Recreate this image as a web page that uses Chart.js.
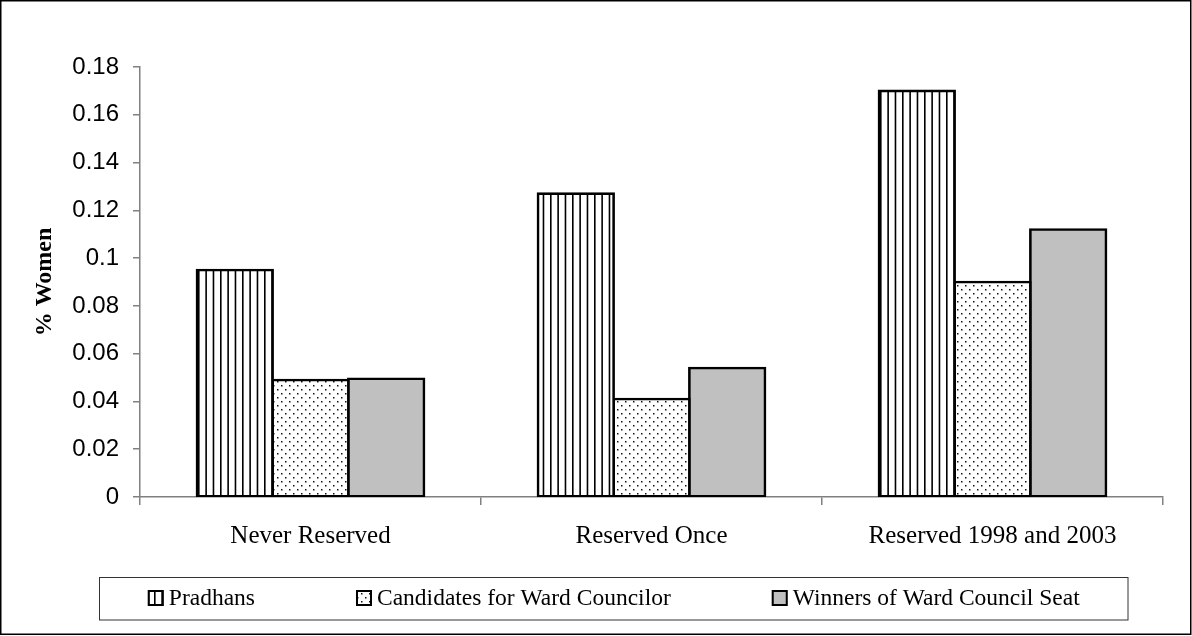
<!DOCTYPE html>
<html>
<head>
<meta charset="utf-8">
<script src="https://cdn.jsdelivr.net/npm/chart.js@4.4.0/dist/chart.umd.min.js"></script>
<style>
  html, body { margin: 0; padding: 0; background: #fff; }
  #wrap { width: 1192px; height: 636px; position: relative; }
</style>
</head>
<body>
<div id="wrap"><canvas id="chart"></canvas></div>
<script>
const categories = ['Never Reserved', 'Reserved Once', 'Reserved 1998 and 2003'];
const seriesNames = ['Pradhans', 'Candidates for Ward Councilor', 'Winners of Ward Council Seat'];
const pradhans = [0.095, 0.127, 0.170];
const candidates = [0.049, 0.041, 0.090];
const winners = [0.0495, 0.054, 0.112];
const yTicks = [0, 0.02, 0.04, 0.06, 0.08, 0.1, 0.12, 0.14, 0.16, 0.18];

// fill patterns like the old Excel hatches
function stripes() {
  const c = document.createElement('canvas');
  c.width = 22; c.height = 4;
  const x = c.getContext('2d');
  x.fillStyle = '#fff'; x.fillRect(0, 0, 22, 4);
  x.fillStyle = '#000';
  [0, 7.33, 14.67].forEach(p => x.fillRect(p, 0, 1.6, 4));
  return x.createPattern(c, 'repeat');
}
function dots() {
  const c = document.createElement('canvas');
  c.width = 8; c.height = 8;
  const x = c.getContext('2d');
  x.fillStyle = '#fff'; x.fillRect(0, 0, 8, 8);
  x.fillStyle = '#111';
  x.fillRect(1, 1, 1.5, 1.5);
  x.fillRect(5, 5, 1.5, 1.5);
  return x.createPattern(c, 'repeat');
}
const fills = [stripes(), dots(), '#c0c0c0'];

const frame = {
  id: 'frame',
  afterDraw(chart) {
    const ctx = chart.ctx;
    ctx.save();
    ctx.strokeStyle = '#000';
    ctx.lineWidth = 1.5;
    ctx.strokeRect(0.75, 0.75, 1190, 633.5);
    // legend
    ctx.lineWidth = 1;
    ctx.strokeStyle = '#333';
    ctx.strokeRect(99.5, 577.5, 1028.5, 42.5);
    ctx.font = '23.5px "Liberation Serif"';
    const gap = 101, box = 16, pad = 5, cy = 598;
    const widths = seriesNames.map(n => box + pad + ctx.measureText(n).width);
    const total = widths.reduce((a, b) => a + b, 0) + gap * 2;
    let x = 99.5 + (1028.5 - total) / 2;
    seriesNames.forEach((n, i) => {
      ctx.fillStyle = fills[i];
      ctx.fillRect(x, cy - 8, box, box);
      ctx.lineWidth = 2;
      ctx.strokeStyle = '#000';
      ctx.strokeRect(x + 1, cy - 7, box - 2, box - 2);
      ctx.fillStyle = '#000';
      ctx.textBaseline = 'middle';
      ctx.textAlign = 'left';
      ctx.fillText(n, x + box + pad, cy + 1);
      x += widths[i] + gap;
    });
    ctx.restore();
  }
};

const barStyle = {
  borderColor: '#000',
  borderWidth: 2.6,
  borderSkipped: false,
  inflateAmount: 1.3,
  categoryPercentage: 0.666,
  barPercentage: 1.0
};

new Chart(document.getElementById('chart'), {
  type: 'bar',
  data: {
    labels: categories,
    datasets: [
      { label: seriesNames[0], data: pradhans, backgroundColor: fills[0], ...barStyle },
      { label: seriesNames[1], data: candidates, backgroundColor: fills[1], ...barStyle },
      { label: seriesNames[2], data: winners, backgroundColor: fills[2], ...barStyle }
    ]
  },
  options: {
    responsive: true,
    maintainAspectRatio: false,
    animation: false,
    layout: { padding: { top: 67, right: 29, bottom: 0, left: 0 } },
    plugins: { legend: { display: false }, tooltip: { enabled: false } },
    scales: {
      x: {
        grid: { drawOnChartArea: false, tickLength: 8, color: '#808080', lineWidth: 1.5 },
        border: { color: '#808080', width: 1.5 },
        ticks: { color: '#000', font: { family: 'Liberation Serif', size: 25 }, padding: 16, maxRotation: 0 },
        afterFit: s => { s.height = 139; }
      },
      y: {
        min: 0,
        max: 0.18,
        afterBuildTicks: s => { s.ticks = yTicks.map(v => ({ value: v })); },
        grid: { drawOnChartArea: false, tickLength: 7, color: '#808080', lineWidth: 1.5 },
        border: { color: '#808080', width: 1.5 },
        ticks: {
          color: '#000',
          font: { family: 'Liberation Sans', size: 24 },
          padding: 14,
          callback: v => String(+v.toFixed(2))
        },
        title: {
          display: true,
          text: '% Women',
          color: '#000',
          font: { family: 'Liberation Serif', size: 24, weight: 'bold' },
          padding: { top: 30 }
        },
        afterFit: s => { s.width = 140; }
      }
    }
  },
  plugins: [frame]
});
</script>
</body>
</html>
